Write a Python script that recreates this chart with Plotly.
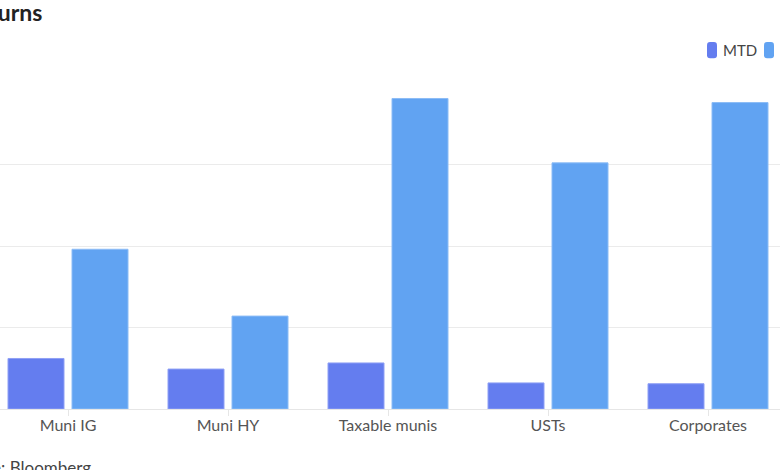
import plotly.graph_objects as go

categories = ["Muni IG", "Muni HY", "Taxable munis", "USTs", "Corporates"]
mtd = [0.62, 0.49, 0.565, 0.32, 0.31]
ytd = [1.96, 1.14, 3.81, 3.02, 3.76]
series_names = ["MTD", "YTD"]
colors = {"MTD": "#647def", "YTD": "#61a3f2"}
borders = {"MTD": "#8fa0f5", "YTD": "#8cbcf6"}

W, H = 780, 470
T, B = 83.3, 61.3
PH = H - T - B


def px(x):
    # page pixel -> paper x (l = r = 0)
    return x / W


def py(y):
    # page pixel -> paper y
    return (H - B - y) / PH


def rounded_box(x0, y0, x1, y1, r=3):
    # svg path for a rounded rectangle, page pixels -> paper coords
    pts = [
        f"M {px(x0 + r)},{py(y0)}",
        f"L {px(x1 - r)},{py(y0)}",
        f"Q {px(x1)},{py(y0)} {px(x1)},{py(y0 + r)}",
        f"L {px(x1)},{py(y1 - r)}",
        f"Q {px(x1)},{py(y1)} {px(x1 - r)},{py(y1)}",
        f"L {px(x0 + r)},{py(y1)}",
        f"Q {px(x0)},{py(y1)} {px(x0)},{py(y1 - r)}",
        f"L {px(x0)},{py(y0 + r)}",
        f"Q {px(x0)},{py(y0)} {px(x0 + r)},{py(y0)} Z",
    ]
    return " ".join(pts)


fig = go.Figure()
for name, vals in zip(series_names, [mtd, ytd]):
    fig.add_trace(go.Bar(
        x=categories, y=vals, name=name,
        marker=dict(color=colors[name], line=dict(color=borders[name], width=1)),
        showlegend=False,
    ))

# hand-made legend (tall rounded swatches), cut at the right edge like the original
legend_x = 707
for name in series_names:
    fig.add_shape(type="path", xref="paper", yref="paper",
                  path=rounded_box(legend_x, 42.5, legend_x + 10, 58.5),
                  fillcolor=colors[name], line=dict(width=0), layer="above")
    fig.add_annotation(text=name, xref="paper", yref="paper",
                       x=px(legend_x + 14), y=py(50.5),
                       xanchor="left", yanchor="middle", showarrow=False,
                       font=dict(family="Lato", size=15, color="#444"))
    legend_x += 57

fig.add_annotation(text="<b>Returns</b>", xref="paper", yref="paper",
                   x=px(44), y=py(12), xanchor="right", yanchor="middle",
                   showarrow=False, font=dict(family="Lato", size=23, color="#222"))
fig.add_annotation(text="Source: Bloomberg", xref="paper", yref="paper",
                   x=px(93), y=py(455), xanchor="right", yanchor="top",
                   showarrow=False,
                   font=dict(family="Lato", size=17, color="#444"))

fig.update_layout(
    width=W, height=H,
    margin=dict(l=0, r=0, t=T, b=B, autoexpand=False),
    paper_bgcolor="white", plot_bgcolor="white",
    barmode="group", bargap=0.2, bargroupgap=0.125,
    font=dict(family="Lato", size=16, color="#555"),
    xaxis=dict(range=[-0.425, 4.45], showgrid=False, ticks="outside",
               ticklen=6, tickcolor="#e6e6e6", showline=True,
               linecolor="#e6e6e6", linewidth=1, ticklabelstandoff=-4,
               tickfont=dict(family="Lato", size=16, color="#555")),
    yaxis=dict(range=[0, 4], dtick=1, showgrid=True, gridcolor="#ebebeb",
               gridwidth=1, zeroline=False, showticklabels=False),
)

fig.write_html("out.html", config={"displayModeBar": False},
               post_script="document.body.style.margin = '0';")
